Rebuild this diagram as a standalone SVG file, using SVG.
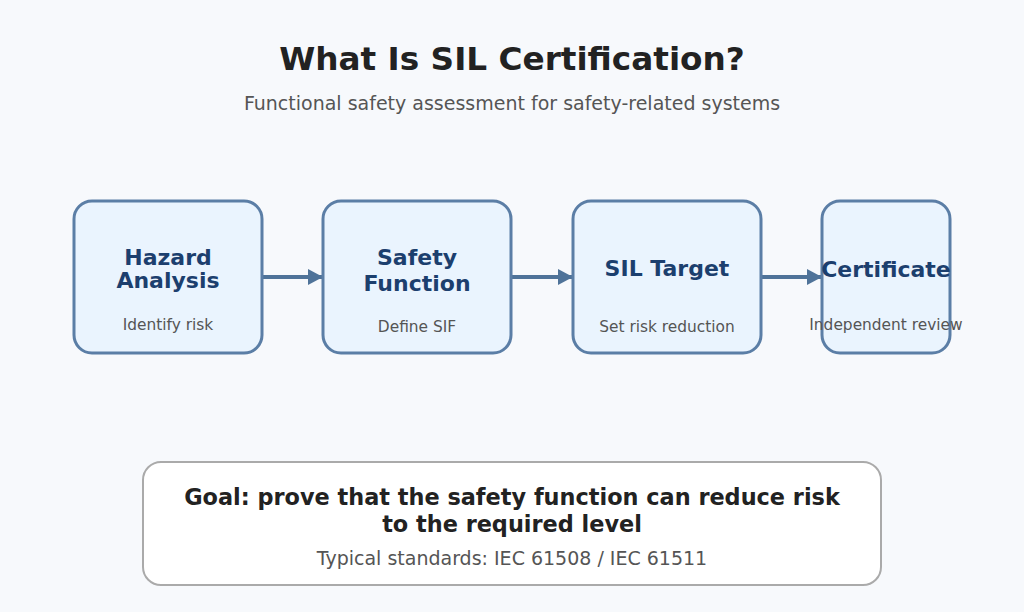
<svg xmlns="http://www.w3.org/2000/svg" width="1024" height="612" viewBox="0 0 1024 612">
<defs>
<style>
text{font-family:"DejaVu Sans","Liberation Sans",sans-serif;text-anchor:middle}
.title{font-size:32.7px;font-weight:bold;fill:#222}
.sub{font-size:19px;fill:#555}
.box{fill:#eaf4fe;stroke:#5b7ea6;stroke-width:3}
.bt{font-size:22px;font-weight:bold;fill:#1c3f6e}
.bs{font-size:15.4px;fill:#555}
.conn{stroke:#4f7399;stroke-width:4;fill:none}
.goal{font-size:22.4px;font-weight:bold;fill:#222}
.std{font-size:19px;fill:#555}
</style>
<marker id="ah" markerWidth="15" markerHeight="16" refX="15" refY="8" orient="auto" markerUnits="userSpaceOnUse" viewBox="0 0 15 16">
<path d="M0,0 L15,8 L0,16 z" fill="#4f7399"/>
</marker>
</defs>
<rect width="1024" height="612" fill="#f7f9fc"/>
<text class="title" x="512" y="70">What Is SIL Certification?</text>
<text class="sub" x="512" y="110">Functional safety assessment for safety-related systems</text>
<g id="connectors">
<line class="conn" x1="263" y1="277" x2="323" y2="277" marker-end="url(#ah)"/>
<line class="conn" x1="512" y1="277" x2="573" y2="277" marker-end="url(#ah)"/>
<line class="conn" x1="762" y1="277" x2="822" y2="277" marker-end="url(#ah)"/>
</g>
<g id="hazard">
<rect class="box" x="74" y="201" width="188" height="152" rx="18"/>
<text class="bt" x="168" y="265">Hazard</text>
<text class="bt" x="168" y="288">Analysis</text>
<text class="bs" x="168" y="330">Identify risk</text>
</g>
<g id="safety">
<rect class="box" x="323" y="201" width="188" height="152" rx="18"/>
<text class="bt" x="417" y="265">Safety</text>
<text class="bt" x="417" y="291">Function</text>
<text class="bs" x="417" y="332">Define SIF</text>
</g>
<g id="sil">
<rect class="box" x="573" y="201" width="188" height="152" rx="18"/>
<text class="bt" x="667" y="276">SIL Target</text>
<text class="bs" x="667" y="332">Set risk reduction</text>
</g>
<g id="cert">
<rect class="box" x="822" y="201" width="128" height="152" rx="18"/>
<text class="bt" x="886" y="277">Certificate</text>
<text class="bs" x="886" y="330">Independent review</text>
</g>
<g id="goal">
<rect x="143" y="462" width="738" height="123" rx="18" fill="#fff" stroke="#aaa" stroke-width="2"/>
<text class="goal" x="512" y="505">Goal: prove that the safety function can reduce risk</text>
<text class="goal" x="512" y="532">to the required level</text>
<text class="std" x="512" y="565">Typical standards: IEC 61508 / IEC 61511</text>
</g>
</svg>
